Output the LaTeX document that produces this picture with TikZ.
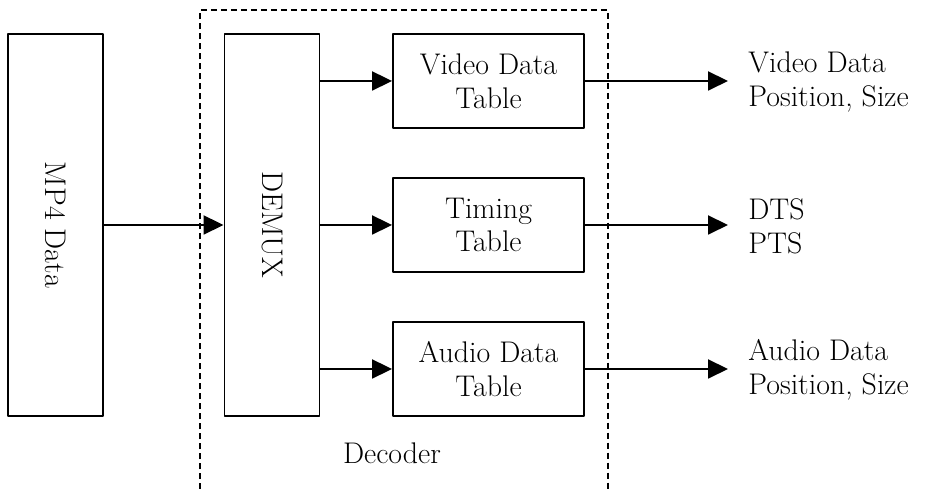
\documentclass[tikz,border=0pt]{standalone}
\usepackage{graphicx}
\usetikzlibrary{arrows.meta}
\begin{document}
\begin{tikzpicture}[x=0.02cm, y=0.02cm, line join=round, >={Triangle[length=0.4cm,width=0.38cm]},
  font=\fontsize{17pt}{19.3pt}\selectfont,
  box/.style={draw, line width=1.1pt, align=center, inner sep=0pt},
  tbl/.style={box, minimum width=3.82cm, minimum height=1.88cm},
  tall/.style={box, minimum width=1.9cm, minimum height=7.64cm},
  outtxt/.style={anchor=west, align=left, inner sep=0pt},
  arr/.style={->, line width=1.1pt}]
\useasboundingbox (0,0) rectangle (925,489);
% decoder region, open at the bottom
\draw[line width=1.1pt, dash pattern=on 0.12cm off 0.08cm] (200,0) -- (200,479) -- (608,479) -- (608,0);
\node (dec) at (392,36) {Decoder};
\node[tall] (mp4) at (55.5,264) {\rotatebox{-90}{MP4 Data}};
\node[tall] (demux) at (272,264) {\rotatebox{-90}{DEMUX}};
\node[tbl] (vdt) at (488.5,408) {Video Data\\Table};
\node[tbl] (tt) at (488.5,264) {Timing\\Table};
\node[tbl] (adt) at (488.5,120) {Audio Data\\Table};
\node[outtxt] (vdtout) at (748,407) {Video Data\\Position, Size};
\node[outtxt] (ttout) at (748,263) {DTS\\PTS};
\node[outtxt] (adtout) at (748,119) {Audio Data\\Position, Size};
\draw[arr] (mp4) -- (demux);
\foreach \t in {vdt,tt,adt}{\draw[arr] (demux.east |- \t) -- (\t);}
\foreach \t/\o in {vdt/vdtout,tt/ttout,adt/adtout}{\draw[arr, shorten >=0.4cm] (\t.east) -- (\t.east -| \o.west);}
\end{tikzpicture}
\end{document}
